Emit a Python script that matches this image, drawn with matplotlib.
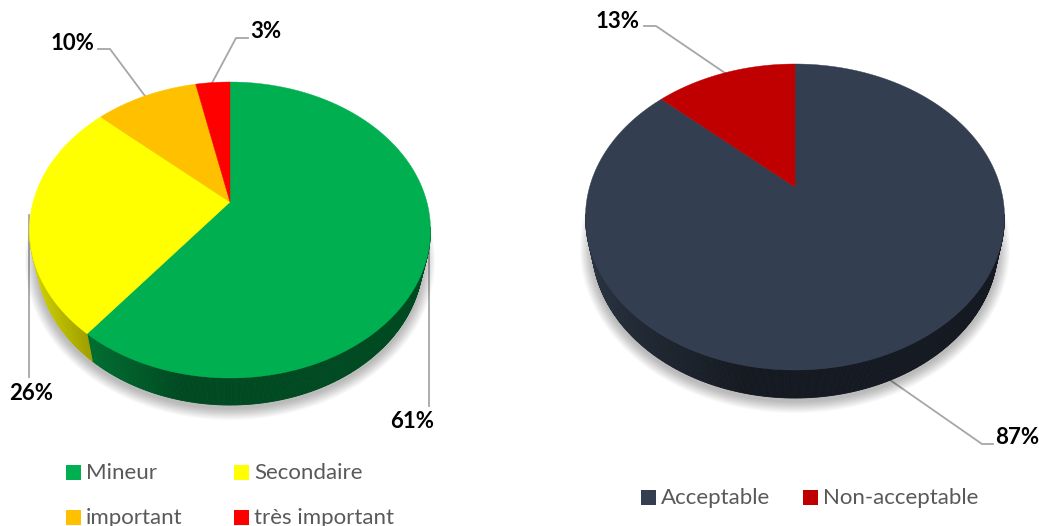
import numpy as np
import matplotlib
matplotlib.use('Agg')
import matplotlib.pyplot as plt
from matplotlib.collections import PolyCollection
from matplotlib.colors import to_rgb

# data
left_names = ['Mineur', 'Secondaire', 'important', 'très important']
left_values = [61, 26, 10, 3]
left_colors = ['#00B050', '#FFFF00', '#FFC000', '#FF0000']

right_names = ['Acceptable', 'Non-acceptable']
right_values = [87, 13]
right_colors = ['#333F50', '#C00000']


def ellipse_hit(apex, center, rx, ry, angle):
    # ray from the apex (perspective centre) to the top ellipse, angle clockwise from 12 o'clock
    squash = np.interp(np.cos(angle), [-0.77, 0.68, 0.98], [0.763, 0.70, 0.655])
    dx = np.sin(angle) * rx
    dy = -np.cos(angle) * rx * squash
    px = (apex[0] - center[0]) / rx
    py = (apex[1] - center[1]) / ry
    qx = dx / rx
    qy = dy / ry
    a = qx**2 + qy**2
    b = 2 * (px * qx + py * qy)
    c = px**2 + py**2 - 1
    r = (-b + np.sqrt(b**2 - 4 * a * c)) / (2 * a)
    return apex[0] + r * dx, apex[1] + r * dy


def shade(x, cx, rx):
    # side wall gets darker towards the middle and stays dark on the right
    u = (x - cx) / rx
    return np.interp(u, [-1.0, -0.7, -0.25, 1.0], [0.82, 0.62, 0.42, 0.42])


def draw_pie(ax, values, colors, center, rx, ry, apex, bottom):
    cx, cy = center
    bcy, brx, bry = bottom

    # soft shadow below the body
    for i in range(12):
        t = np.linspace(0, 2 * np.pi, 300)
        ax.fill(cx + (brx + 12 - i) * np.cos(t), bcy + 3 + (bry + 12 - i) * np.sin(t),
                color='k', alpha=0.022, lw=0, zorder=1)

    fracs = np.cumsum([0] + list(values)) / float(sum(values))
    # slices start at 12 o'clock and go clockwise
    angles = fracs * 2 * np.pi

    # map each point of the rim to the slice it is in
    n = 720
    t = np.linspace(0, 2 * np.pi, n + 1)
    xt = cx + rx * np.sin(t)
    yt = cy - ry * np.cos(t)
    xb = cx + brx * np.sin(t)
    yb = bcy - bry * np.cos(t)

    edge_params = []
    for a in angles:
        hx, hy = ellipse_hit(apex, center, rx, ry, a)
        edge_params.append(np.arctan2((hx - cx) / rx, -(hy - cy) / ry) % (2 * np.pi))
    edge_params[-1] = 2 * np.pi

    quads = []
    cols = []
    for i in range(n):
        mid = 0.5 * (t[i] + t[i + 1])
        if np.cos(mid) > 0.02:
            continue
        k = np.searchsorted(edge_params, mid) - 1
        k = min(max(k, 0), len(colors) - 1)
        f = shade(xt[i], cx, rx)
        cols.append(tuple(np.array(to_rgb(colors[k])) * f))
        quads.append([(xt[i], yt[i]), (xt[i + 1], yt[i + 1]), (xb[i + 1], yb[i + 1]), (xb[i], yb[i])])
    ax.add_collection(PolyCollection(quads, facecolors=cols, edgecolors=cols, linewidths=0.6, zorder=2))

    # top face
    for k, col in enumerate(colors):
        a = np.linspace(angles[k], angles[k + 1], 240)
        hx, hy = ellipse_hit(apex, center, rx, ry, a)
        ax.fill(np.r_[apex[0], hx], np.r_[apex[1], hy], color=col, lw=0.3, zorder=3)


fig = plt.figure(figsize=(10.39, 5.26), dpi=100, facecolor='w')
ax = fig.add_axes([0, 0, 1, 1])
ax.set_xlim(0, 1039)
ax.set_ylim(526, 0)
ax.axis('off')

# leader lines, under the pies
leader = dict(color='#A6A6A6', lw=1.3, zorder=0.5, solid_joinstyle='miter')
ax.plot([212, 236, 248], [83, 38, 38], **leader)
ax.plot([98, 110, 145], [49, 49, 96], **leader)
ax.plot([28.5, 28.5], [215, 377], **leader)
ax.plot([429, 429], [250, 406], **leader)
ax.plot([890, 982, 993], [380, 444, 444], **leader)
ax.plot([644, 656, 725], [26, 26, 73], **leader)

draw_pie(ax, left_values, left_colors, (230, 230), 200.5, 148, (230, 202), (258, 193, 147))
draw_pie(ax, right_values, right_colors, (795, 217), 209.5, 153, (795, 187), (245, 203, 153))

# percent labels
lab = dict(family='Lato', weight='bold', fontsize=16, color='k', ha='center', va='center')
ax.text(412, 422, '%d%%' % left_values[0], **lab)
ax.text(31, 394, '%d%%' % left_values[1], **lab)
ax.text(72, 43, '%d%%' % left_values[2], **lab)
ax.text(266, 32, '%d%%' % left_values[3], **lab)
ax.text(1017, 437, '%d%%' % right_values[0], **lab)
ax.text(618, 21, '%d%%' % right_values[1], **lab)


def legend_item(x, y, name, col):
    ax.fill([x, x + 15, x + 15, x], [y, y, y + 15, y + 15], color=col, lw=0)
    ax.text(x + 20, y + 14, name, family='Lato', fontsize=16, color='#595959', ha='left', va='baseline')


legend_item(66, 465, left_names[0], left_colors[0])
legend_item(234, 465, left_names[1], left_colors[1])
legend_item(66, 510, left_names[2], left_colors[2])
legend_item(234, 510, left_names[3], left_colors[3])
legend_item(641, 490, right_names[0], right_colors[0])
legend_item(803, 490, right_names[1], right_colors[1])

plt.savefig('out.png', dpi=100, facecolor='w')
